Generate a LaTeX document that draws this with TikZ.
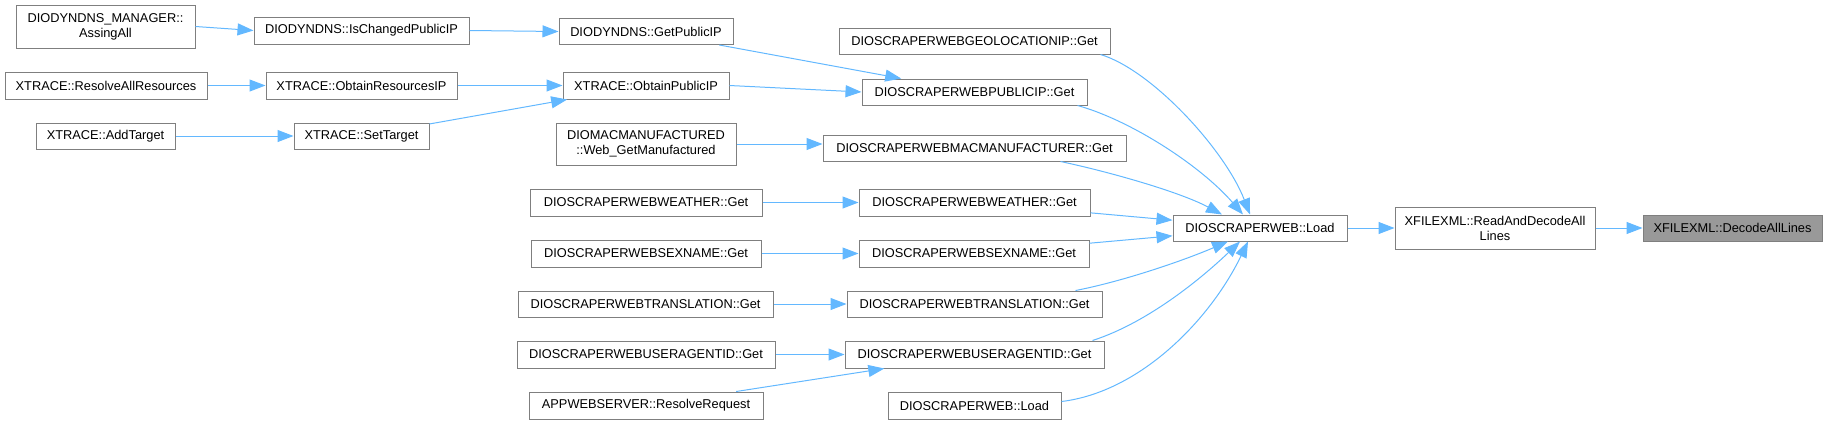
\documentclass[tikz,border=0pt]{standalone}
\usepackage{fontspec}
\setmainfont{Liberation Sans}
\usetikzlibrary{arrows.meta,calc}
\definecolor{edgeblue}{HTML}{63B8FF}
\definecolor{bordergray}{HTML}{7F7F7F}
\definecolor{hilite}{HTML}{999999}
\tikzset{
  box/.style={draw=bordergray, fill=white, line width=1pt, inner sep=0pt, align=center,
    font=\fontsize{12.8}{15}\selectfont, text=black},
  edge/.style={draw=edgeblue, line width=1pt, -{Triangle[length=16pt,width=12pt]}}
}
\begin{document}
\begin{tikzpicture}[x=1pt,y=-1pt]
\useasboundingbox (0,0) rectangle (1827,424);
% column 1
\node[box, minimum width=179, minimum height=43] (assing) at (105.5,26.5) {DIODYNDNS\_MANAGER::\\AssingAll};
\node[box, minimum width=202, minimum height=27] (resolveall) at (106,85.5) {XTRACE::ResolveAllResources};
\node[box, minimum width=139, minimum height=26] (addtarget) at (105.5,136) {XTRACE::AddTarget};
% column 2
\node[box, minimum width=215, minimum height=27] (ischanged) at (361.5,30.5) {DIODYNDNS::IsChangedPublicIP};
\node[box, minimum width=191, minimum height=27] (obtainres) at (361.5,85.5) {XTRACE::ObtainResourcesIP};
\node[box, minimum width=135, minimum height=26] (settarget) at (361.5,136) {XTRACE::SetTarget};
% column 3
\node[box, minimum width=174, minimum height=26] (getpub) at (646,31.5) {DIODYNDNS::GetPublicIP};
\node[box, minimum width=166, minimum height=27] (obtainpub) at (646,85.5) {XTRACE::ObtainPublicIP};
\node[box, minimum width=180, minimum height=42] (diomac) at (646,144) {DIOMACMANUFACTURED\\::Web\_GetManufactured};
\node[box, minimum width=232, minimum height=27] (weatherL) at (646,202.5) {DIOSCRAPERWEBWEATHER::Get};
\node[box, minimum width=230, minimum height=27] (sexL) at (646,253.5) {DIOSCRAPERWEBSEXNAME::Get};
\node[box, minimum width=255, minimum height=26] (transL) at (645.5,304) {DIOSCRAPERWEBTRANSLATION::Get};
\node[box, minimum width=258, minimum height=27] (uaL) at (646,354.5) {DIOSCRAPERWEBUSERAGENTID::Get};
\node[box, minimum width=234, minimum height=27] (appweb) at (646,405.5) {APPWEBSERVER::ResolveRequest};
% column 4
\node[box, minimum width=271, minimum height=26] (geo) at (974.5,41) {DIOSCRAPERWEBGEOLOCATIONIP::Get};
\node[box, minimum width=225, minimum height=26] (pubget) at (974.5,92) {DIOSCRAPERWEBPUBLICIP::Get};
\node[box, minimum width=303, minimum height=26] (macget) at (974.5,148) {DIOSCRAPERWEBMACMANUFACTURER::Get};
\node[box, minimum width=231, minimum height=27] (weatherR) at (974.5,202.5) {DIOSCRAPERWEBWEATHER::Get};
\node[box, minimum width=230, minimum height=27] (sexR) at (974,253.5) {DIOSCRAPERWEBSEXNAME::Get};
\node[box, minimum width=255, minimum height=26] (transR) at (974.5,304) {DIOSCRAPERWEBTRANSLATION::Get};
\node[box, minimum width=259, minimum height=27] (uaR) at (974.5,354.5) {DIOSCRAPERWEBUSERAGENTID::Get};
\node[box, minimum width=173, minimum height=27] (loadB) at (974.5,405.5) {DIOSCRAPERWEB::Load};
% right part
\node[box, minimum width=174, minimum height=26] (load) at (1260,228) {DIOSCRAPERWEB::Load};
\node[box, minimum width=200, minimum height=42] (readdec) at (1495,228) {XFILEXML::ReadAndDecodeAll\\Lines};
\node[box, fill=hilite, minimum width=179, minimum height=26] (decode) at (1732.5,228) {XFILEXML::DecodeAllLines};
% edges left part
\draw[edge] (assing.east) -- (ischanged.west);
\draw[edge] (ischanged.east) -- (getpub.west);
\draw[edge] (resolveall) -- (obtainres);
\draw[edge] (obtainres) -- (obtainpub);
\draw[edge] (addtarget) -- (settarget);
\draw[edge] (settarget) -- (obtainpub);
\draw[edge] (getpub) -- (pubget);
\draw[edge] (obtainpub.east) -- (pubget.west);
\draw[edge] (diomac.east) -- (diomac.east -| macget.west);
\draw[edge] (weatherL) -- (weatherR);
\draw[edge] (sexL) -- (sexR);
\draw[edge] (transL) -- (transR);
\draw[edge] (uaL) -- (uaR);
\draw[edge] (appweb) -- (uaR);
% edges into Load
\draw[edge] ([xshift=-10pt]geo.south east) .. controls (1152,70) and (1225,150) .. ([xshift=-10pt]load.north);
\draw[edge] ([xshift=-10pt]pubget.south east) .. controls (1130,120) and (1200,165) .. ([xshift=-17pt]load.north);
\draw[edge] ([xshift=-66pt]macget.south east) .. controls (1110,172) and (1180,192) .. ([xshift=-38pt]load.north);
\draw[edge] (weatherR) -- (load);
\draw[edge] (sexR) -- (load);
\draw[edge] ([xshift=-27pt]transR.north east) .. controls (1120,282) and (1180,262) .. ([xshift=-32pt]load.south);
\draw[edge] ([xshift=-12pt]uaR.north east) .. controls (1150,322) and (1205,275) .. ([xshift=-20pt]load.south);
\draw[edge] ([yshift=4pt]loadB.east) .. controls (1140,392) and (1210,320) .. ([xshift=-12pt]load.south);
% right edges
\draw[edge] (load) -- (readdec);
\draw[edge] (readdec) -- (decode);
\end{tikzpicture}
\end{document}
